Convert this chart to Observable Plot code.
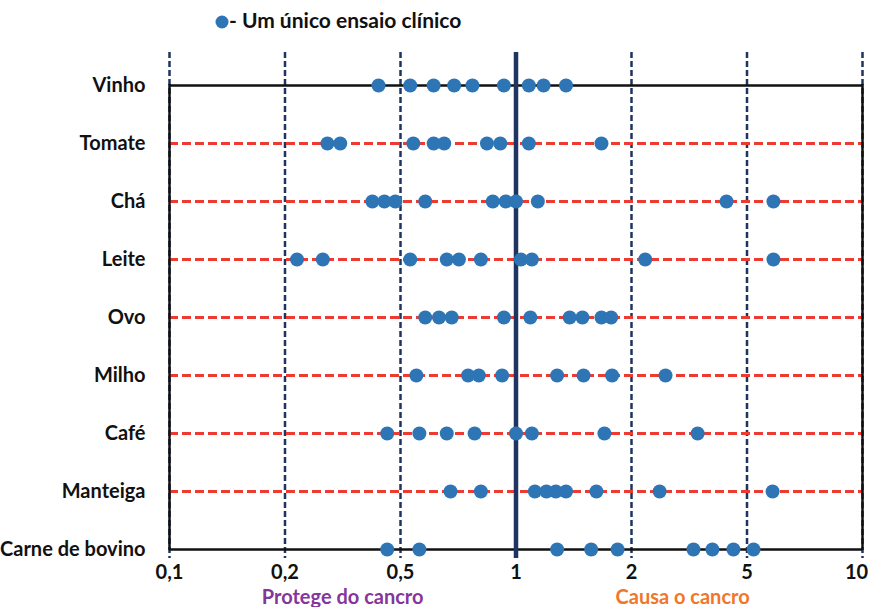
<!DOCTYPE html>
<html><head><meta charset="utf-8">
<script src="https://cdn.jsdelivr.net/npm/d3@7"></script>
<script src="https://cdn.jsdelivr.net/npm/@observablehq/plot@0.6"></script>
<style>
body{margin:0;background:#fff;font-family:Lato,sans-serif;overflow:hidden;}
#legend{position:relative;height:40px;width:871px;}
#legend svg{position:absolute;left:215px;top:15px;}
#legend span{position:absolute;left:229px;top:7px;font:bold 21px Lato,sans-serif;color:#111;white-space:nowrap;}
#chart svg{overflow:visible;}
</style></head><body>
<div id="legend"></div>
<div id="chart"></div>
<script>
// ---- data ----
const categories = ["Vinho","Tomate","Chá","Leite","Ovo","Milho","Café","Manteiga","Carne de bovino"];
const tickValues = [0.1, 0.2, 0.5, 1, 2, 5, 10];
const vinho    = [0.42, 0.53, 0.61, 0.69, 0.77, 0.93, 1.08, 1.18, 1.35];
const tomate   = [0.28, 0.31, 0.54, 0.61, 0.65, 0.84, 0.91, 1.08, 1.67];
const cha      = [0.40, 0.44, 0.48, 0.58, 0.87, 0.94, 1.00, 1.14, 4.25, 5.86];
const leite    = [0.22, 0.27, 0.53, 0.66, 0.71, 0.81, 1.03, 1.10, 2.23, 5.86];
const ovo      = [0.58, 0.63, 0.68, 0.93, 1.09, 1.38, 1.49, 1.67, 1.77];
const milho    = [0.55, 0.75, 0.80, 0.92, 1.28, 1.50, 1.78, 2.62];
const cafe     = [0.45, 0.56, 0.66, 0.78, 1.00, 1.10, 1.70, 3.38];
const manteiga = [0.675, 0.81, 1.12, 1.20, 1.27, 1.35, 1.62, 2.50, 5.83];
const carne    = [0.45, 0.56, 1.28, 1.57, 1.84, 3.27, 3.80, 4.49, 5.20];
const legendText = "- Um único ensaio clínico";
const sideLabels = ["Protege do cancro", "Causa o cancro"];
const sideLabelX = [0.316, 3.0];

const series = [vinho, tomate, cha, leite, ovo, milho, cafe, manteiga, carne];
const points = categories.flatMap((c, i) => series[i].map(v => ({cat: c, v})));
const sides = sideLabels.map((t, i) => ({t, x: sideLabelX[i]}));

// ---- styles ----
const BLUE = "#2e75b6", NAVY = "#1f3461", RED = "#ee3a30";
const W = 871, H = 567, ML = 169, MR = 9, MT = 44, MB = 57;
const step = (W - MR - ML) / (tickValues.length - 1);

// legend
document.getElementById("legend").innerHTML =
  `<svg width="14" height="14"><circle cx="7" cy="7" r="6.5" fill="${BLUE}"/></svg><span></span>`;
document.querySelector("#legend span").textContent = legendText;

const fmt = d => String(d).replace(".", ",");
const midCats = categories.slice(1, -1);
const edgeCats = [categories[0], categories[categories.length - 1]];
const lastTick = tickValues[tickValues.length - 1];
const axisOpts = {tickFormat: fmt, tickSize: 0, tickPadding: 14, label: null, fontSize: 20, fontWeight: "bold"};

const chart = Plot.plot({
  width: W, height: H,
  marginLeft: ML, marginRight: MR, marginTop: MT, marginBottom: MB,
  style: {fontFamily: "Lato, sans-serif", fontWeight: "bold", fontSize: "20px", color: "#111", background: "#fff", overflow: "visible"},
  x: {type: "log", domain: tickValues, range: tickValues.map((d, i) => ML + i * step)},
  y: {type: "point", domain: categories, padding: 0},
  marks: [
    Plot.ruleX(tickValues.filter(d => d !== 1), {stroke: NAVY, strokeWidth: 2.5, strokeDasharray: "6,3", insetTop: -32, insetBottom: -8}),
    Plot.ruleY(midCats, {y: d => d, stroke: RED, strokeWidth: 3, strokeDasharray: "9,4"}),
    Plot.ruleY(edgeCats, {y: d => d, stroke: "#111", strokeWidth: 2.5}),
    Plot.ruleX([tickValues[0], lastTick], {stroke: "#111", strokeWidth: 2.5}),
    Plot.ruleX([1], {stroke: NAVY, strokeWidth: 4.5, insetTop: -32, insetBottom: -8}),
    Plot.dot(points, {x: "v", y: "cat", r: 7, fill: BLUE}),
    Plot.axisX({...axisOpts, ticks: tickValues.slice(0, -1)}),
    Plot.axisX({...axisOpts, ticks: [lastTick], dx: -6}),
    Plot.axisY({tickSize: 0, tickPadding: 24, label: null, fontSize: 20, fontWeight: "bold"}),
    Plot.text(sides, {x: "x", text: "t", frameAnchor: "bottom", dy: 53, fontSize: 20, fontWeight: "bold",
      fill: (d, i) => i === 0 ? "#84369a" : "#f0762b"})
  ]
});
document.getElementById("chart").appendChild(chart);
</script>
</body></html>
